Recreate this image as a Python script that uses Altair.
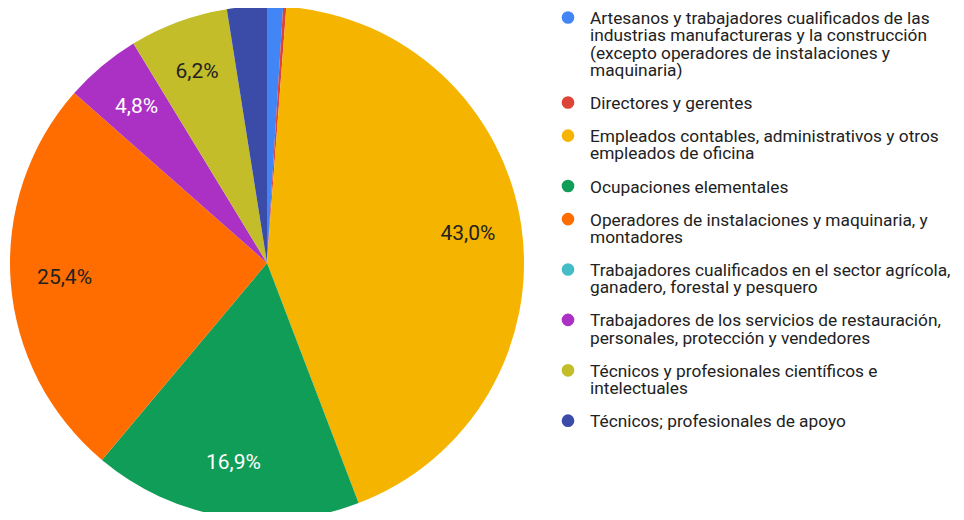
import altair as alt
import pandas as pd

categories = [
    "Artesanos y trabajadores cualificados de las industrias manufactureras y la construcción (excepto operadores de instalaciones y maquinaria)",
    "Directores y gerentes",
    "Empleados contables, administrativos y otros empleados de oficina",
    "Ocupaciones elementales",
    "Operadores de instalaciones y maquinaria, y montadores",
    "Trabajadores cualificados en el sector agrícola, ganadero, forestal y pesquero",
    "Trabajadores de los servicios de restauración, personales, protección y vendedores",
    "Técnicos y profesionales científicos e intelectuales",
    "Técnicos; profesionales de apoyo",
]
legend_labels = [
    "Artesanos y trabajadores cualificados de las\nindustrias manufactureras y la construcción\n(excepto operadores de instalaciones y\nmaquinaria)",
    "Directores y gerentes",
    "Empleados contables, administrativos y otros\nempleados de oficina",
    "Ocupaciones elementales",
    "Operadores de instalaciones y maquinaria, y\nmontadores",
    "Trabajadores cualificados en el sector agrícola,\nganadero, forestal y pesquero",
    "Trabajadores de los servicios de restauración,\npersonales, protección y vendedores",
    "Técnicos y profesionales científicos e\nintelectuales",
    "Técnicos; profesionales de apoyo",
]
shares = [1.0, 0.2, 43.0, 16.9, 25.4, 0.0, 4.8, 6.2, 2.5]

# styles
colors = ["#4285F4", "#DB4437", "#F4B400", "#0F9D58", "#FF6D00",
          "#46BDC6", "#AB30C4", "#C2BD28", "#3B4BA8"]
label_colors = ["#222222", "#222222", "#222222", "#FFFFFF", "#222222",
                "#222222", "#FFFFFF", "#222222", "#222222"]

W, H = 948, 504
CX, CY, R = 259, 255, 257
LINE_H, ENTRY_GAP, FIRST_Y = 17.3, 15.8, 9.5
LEG_FS = 17.3

ys = []
y = FIRST_Y
for lab in legend_labels:
    ys.append(y)
    y += (lab.count("\n") + 1) * LINE_H + ENTRY_GAP

df = pd.DataFrame({
    "cat": categories,
    "legend": legend_labels,
    "value": shares,
    "idx": list(range(len(categories))),
    "label": [(f"{v:.1f}".replace(".", ",") + "%") if v >= 3 else "" for v in shares],
    "lcolor": label_colors,
    "ly": ys,
})

color = alt.Color("cat:N", scale=alt.Scale(domain=categories, range=colors), legend=None)

base = alt.Chart(df)

pie = base.mark_arc(outerRadius=R).encode(
    theta=alt.Theta("value:Q", stack=True),
    order=alt.Order("idx:Q"),
    color=color,
    x=alt.value(CX),
    y=alt.value(CY),
)

labels = base.mark_text(radius=203, font="Roboto", fontSize=21).encode(
    theta=alt.Theta("value:Q", stack=True),
    order=alt.Order("idx:Q"),
    text="label:N",
    fill=alt.Fill("lcolor:N", scale=None),
    x=alt.value(CX),
    y=alt.value(CY),
)

yscale = alt.Scale(domain=[0, H], range=[0, H])

leg_dots = base.mark_circle(size=160, opacity=1).encode(
    x=alt.value(560),
    y=alt.Y("ly:Q", scale=yscale, axis=None),
    color=color,
)

leg_text = base.mark_text(
    align="left", baseline="top", dy=-7.5, lineBreak="\n", lineHeight=LINE_H,
    font="Roboto", fontSize=LEG_FS, color="#222222",
).encode(
    x=alt.value(582),
    y=alt.Y("ly:Q", scale=yscale, axis=None),
    text="legend:N",
)

chart = alt.layer(pie, labels, leg_dots, leg_text).properties(
    width=W, height=H, padding=0, autosize=alt.AutoSizeParams(type="none"),
).configure_view(stroke=None)

chart.save("out.html", embed_options={"renderer": "svg", "actions": False})
